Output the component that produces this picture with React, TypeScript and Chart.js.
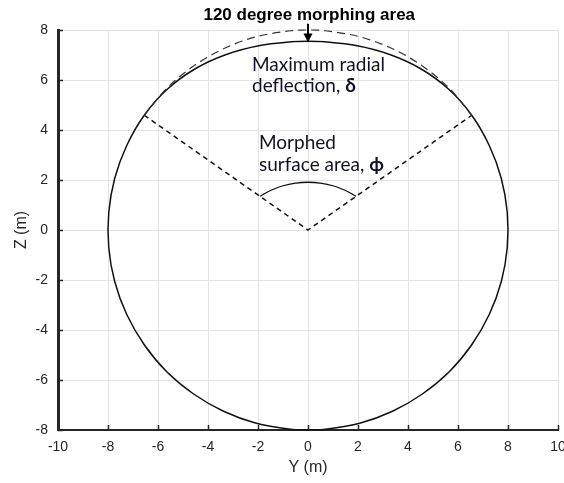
import React, { useEffect, useRef } from "react";
import { Chart, registerables } from "chart.js";

Chart.register(...registerables);

// ---- axis settings ----
const X_MIN = -10;
const X_MAX = 10;
const Z_MIN = -8;
const Z_MAX = 8;
const TICK_STEP = 2;
const X_TITLE = "Y (m)";
const Z_TITLE = "Z (m)";

// ---- deformed (morphed) cross-section, solid line (Y, Z in metres) ----
const deformedY = [
  0, -0.7, -2.07, -3.38, -4.59, -5.66, -6.55, -7.25, -7.73, -7.97, -7.97, -7.73, -7.25, -6.55,
  -5.63, -4.51, -3.27, -1.97, -0.66, 0, 0.66, 1.97, 3.27, 4.51, 5.63, 6.55,
  7.25, 7.73, 7.97, 7.97, 7.73, 7.25, 6.55, 5.66, 4.59, 3.38, 2.07, 0.7, 0,
];
const deformedZ = [
  -8, -7.97, -7.73, -7.25, -6.55, -5.66, -4.59, -3.38, -2.07, -0.7, 0.7, 2.07, 3.38, 4.59,
  5.63, 6.45, 7.02, 7.37, 7.53, 7.55, 7.53, 7.37, 7.02, 6.45, 5.63, 4.59,
  3.38, 2.07, 0.7, -0.7, -2.07, -3.38, -4.59, -5.66, -6.55, -7.25, -7.73, -7.97, -8,
];

// ---- original (undeformed) top arc, dashed ----
const originalTopY = [-6.55, -5.66, -4.59, -3.38, -2.07, -0.7, 0, 0.7, 2.07, 3.38, 4.59, 5.66, 6.55];
const originalTopZ = [4.59, 5.66, 6.55, 7.25, 7.73, 7.97, 8, 7.97, 7.73, 7.25, 6.55, 5.66, 4.59];

// ---- boundaries of the morphing area, dashed ----
const boundaryY = [-6.55, 0, 6.55];
const boundaryZ = [4.59, 0, 4.59];

// ---- arc marking the morphed surface angle ----
const phiArcY = [-1.92, -1.5, -1, -0.5, 0, 0.5, 1, 1.5, 1.92];
const phiArcZ = [1.35, 1.58, 1.77, 1.875, 1.91, 1.875, 1.77, 1.58, 1.35];

// ---- annotations ----
const TOP_LABEL = "120 degree morphing area";
const TOP_LABEL_POS = [0.05, 8.6];
const ARROW_FROM = [0, 8.25];
const ARROW_TO = [0, 7.5];
const DELTA_LINES = [
  [["Maximum radial", false]],
  [["deflection, ", false], ["δ", true]],
];
const DELTA_POS = [-2.24, 6.38, 5.52];
const PHI_LINES = [
  [["Morphed", false]],
  [["surface area, ", false], ["ϕ", true]],
];
const PHI_POS = [-1.96, 3.23, 2.37];

const pts = (xs: number[], ys: number[]) => xs.map((v, i) => ({ x: v, y: ys[i] }));

const AXIS_COLOR = "#262626";
const SANS = "'Liberation Sans', Arial, Helvetica, sans-serif";
const NOTE_FONT = "'Lato', 'Open Sans', 'DejaVu Sans', sans-serif";

const tickValues = (min: number, max: number) => {
  const out: number[] = [];
  for (let v = min; v <= max + 1e-9; v += TICK_STEP) out.push(v);
  return out;
};

const overlayPlugin = {
  id: "overlay",
  afterDatasetsDraw(chart: any) {
    const { ctx, scales, chartArea } = chart;
    const x = scales.x;
    const y = scales.y;
    ctx.save();

    // inward ticks (MATLAB style)
    ctx.strokeStyle = AXIS_COLOR;
    ctx.lineWidth = 1.5;
    ctx.beginPath();
    for (const v of tickValues(X_MIN, X_MAX)) {
      const px = Math.round(x.getPixelForValue(v)) + 0.5;
      ctx.moveTo(px, chartArea.bottom);
      ctx.lineTo(px, chartArea.bottom - 5);
    }
    for (const v of tickValues(Z_MIN, Z_MAX)) {
      const py = Math.round(y.getPixelForValue(v)) + 0.5;
      ctx.moveTo(chartArea.left, py);
      ctx.lineTo(chartArea.left + 5, py);
    }
    ctx.stroke();

    // top label
    ctx.fillStyle = "#000";
    ctx.font = `bold 17px ${SANS}`;
    ctx.textAlign = "center";
    ctx.textBaseline = "middle";
    ctx.fillText(TOP_LABEL, x.getPixelForValue(TOP_LABEL_POS[0]), y.getPixelForValue(TOP_LABEL_POS[1]));

    // arrow
    const ax = x.getPixelForValue(ARROW_FROM[0]);
    const ay0 = y.getPixelForValue(ARROW_FROM[1]);
    const ay1 = y.getPixelForValue(ARROW_TO[1]);
    ctx.strokeStyle = "#000";
    ctx.lineWidth = 2;
    ctx.beginPath();
    ctx.moveTo(ax, ay0);
    ctx.lineTo(ax, ay1 - 6);
    ctx.stroke();
    ctx.beginPath();
    ctx.moveTo(ax, ay1);
    ctx.lineTo(ax - 4.5, ay1 - 9);
    ctx.lineTo(ax + 4.5, ay1 - 9);
    ctx.closePath();
    ctx.fill();

    // notes
    const drawLines = (lines: any[], pos: number[]) => {
      ctx.textAlign = "left";
      ctx.textBaseline = "alphabetic";
      ctx.fillStyle = "#111126";
      lines.forEach((runs: any[], i: number) => {
        let px = x.getPixelForValue(pos[0]);
        const py = y.getPixelForValue(pos[1 + i]);
        for (const [t, bold] of runs) {
          ctx.font = `${bold ? "bold " : ""}19px ${NOTE_FONT}`;
          ctx.fillText(t, px, py);
          px += ctx.measureText(t).width;
        }
      });
    };
    drawLines(DELTA_LINES, DELTA_POS);
    drawLines(PHI_LINES, PHI_POS);

    ctx.restore();
  },
};

export default function App() {
  const ref = useRef<HTMLCanvasElement | null>(null);

  useEffect(() => {
    document.body.style.margin = "0";
    const canvas = ref.current;
    if (!canvas) return;
    const line = (data: any, opts: any) => ({
      data,
      showLine: true,
      pointRadius: 0,
      pointHoverRadius: 0,
      borderColor: "#111",
      borderWidth: 1.5,
      tension: 0,
      clip: false,
      ...opts,
    });
    const chart = new Chart(canvas, {
      type: "scatter",
      data: {
        datasets: [
          line(pts(originalTopY, originalTopZ), { borderColor: "#333", borderWidth: 1.2, borderDash: [8, 5], tension: 0.33 }),
          line(pts(deformedY, deformedZ), { tension: 0.33 }),
          line(pts(boundaryY, boundaryZ), { borderDash: [5, 4], borderWidth: 1.5 }),
          line(pts(phiArcY, phiArcZ), { tension: 0.33, borderWidth: 1.3 }),
        ],
      },
      options: {
        animation: false,
        responsive: false,
        devicePixelRatio: 1,
        layout: { padding: { top: 30, right: 6, left: 0, bottom: 0 } },
        plugins: { legend: { display: false }, tooltip: { enabled: false }, title: { display: false } },
        events: [],
        scales: {
          x: {
            type: "linear",
            min: X_MIN,
            max: X_MAX,
            afterFit: (s: any) => {
              s.height = 53;
              s.paddingLeft = 0;
              s.paddingRight = 0;
            },
            ticks: { stepSize: TICK_STEP, color: AXIS_COLOR, padding: 9, font: { family: SANS, size: 14 } },
            grid: { color: "#e3e3e3", lineWidth: 1, drawTicks: false },
            border: { display: true, color: AXIS_COLOR, width: 2 },
            title: { display: true, text: X_TITLE, color: AXIS_COLOR, font: { family: SANS, size: 16 }, padding: { top: 0, bottom: 6 } },
          },
          y: {
            type: "linear",
            min: Z_MIN,
            max: Z_MAX,
            afterFit: (s: any) => {
              s.width = 58;
              s.paddingTop = 0;
              s.paddingBottom = 0;
            },
            ticks: { stepSize: TICK_STEP, color: AXIS_COLOR, padding: 10, font: { family: SANS, size: 14 } },
            grid: { color: "#e3e3e3", lineWidth: 1, drawTicks: false },
            border: { display: true, color: AXIS_COLOR, width: 3 },
            title: { display: true, text: Z_TITLE, color: AXIS_COLOR, font: { family: SANS, size: 16 }, padding: { top: 12, bottom: 0 } },
          },
        },
      },
      plugins: [overlayPlugin],
    });
    return () => chart.destroy();
  }, []);

  return (
    <div style={{ position: "relative", width: 564, height: 483, background: "#fff" }}>
      <canvas ref={ref} width={564} height={483} style={{ display: "block", width: 564, height: 483 }} />
    </div>
  );
}
